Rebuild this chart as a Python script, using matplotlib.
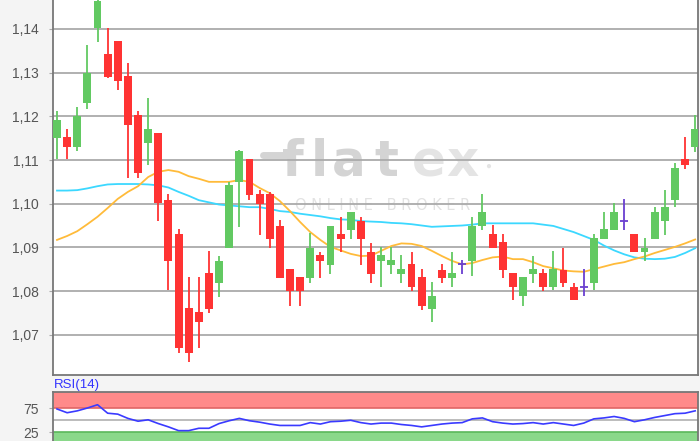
# Candlestick chart with two moving averages and an RSI(14) panel, flatex style

import numpy as np
import matplotlib
matplotlib.use('Agg')
import matplotlib.pyplot as plt
from matplotlib.lines import Line2D

plt.rcParams['font.family'] = ['Liberation Sans', 'DejaVu Sans']

# daily candles
opens = [1.1151, 1.1153, 1.1130, 1.1230, 1.1402, 1.1343, 1.1373, 1.1292, 1.1203, 1.1138,
         1.1161, 1.1009, 1.0930, 1.0760, 1.0751, 1.0841, 1.0818, 1.0898, 1.1050, 1.1102,
         1.1021, 1.1021, 1.0950, 1.0850, 1.0832, 1.0829, 1.0882, 1.0860, 1.0930, 1.0940,
         1.0960, 1.0890, 1.0868, 1.0860, 1.0838, 1.0861, 1.0831, 1.0758, 1.0848, 1.0829,
         1.0861, 1.0868, 1.0950, 1.0930, 1.0912, 1.0841, 1.0789, 1.0838, 1.0841, 1.0809,
         1.0848, 1.0810, 1.0810, 1.0818, 1.0918, 1.0940, 1.0961, 1.0930, 1.0889, 1.0918,
         1.0961, 1.1008, 1.1102, 1.1130]
highs = [1.1212, 1.1170, 1.1221, 1.1363, 1.1475, 1.1402, 1.1373, 1.1323, 1.1212, 1.1241,
         1.1161, 1.1021, 1.0941, 1.0831, 1.0831, 1.0892, 1.0880, 1.1050, 1.1124, 1.1102,
         1.1031, 1.1027, 1.0963, 1.0850, 1.0832, 1.0932, 1.0890, 1.0950, 1.0970, 1.0980,
         1.0970, 1.0911, 1.0901, 1.0901, 1.0882, 1.0890, 1.0850, 1.0820, 1.0861, 1.0890,
         1.0870, 1.0970, 1.1021, 1.0951, 1.0930, 1.0841, 1.0831, 1.0881, 1.0850, 1.0892,
         1.0899, 1.0819, 1.0850, 1.0930, 1.0980, 1.1001, 1.1011, 1.0930, 1.0921, 1.0992,
         1.1031, 1.1092, 1.1153, 1.1203]
lows = [1.1102, 1.1102, 1.1121, 1.1217, 1.1370, 1.1288, 1.1260, 1.1058, 1.1058, 1.1089,
        1.0961, 1.0802, 1.0657, 1.0637, 1.0669, 1.0749, 1.0787, 1.0898, 1.0947, 1.1008,
        1.0928, 1.0898, 1.0829, 1.0766, 1.0766, 1.0818, 1.0829, 1.0838, 1.0889, 1.0918,
        1.0860, 1.0818, 1.0809, 1.0838, 1.0818, 1.0800, 1.0757, 1.0728, 1.0818, 1.0809,
        1.0838, 1.0835, 1.0940, 1.0898, 1.0829, 1.0779, 1.0766, 1.0818, 1.0801, 1.0802,
        1.0809, 1.0779, 1.0789, 1.0802, 1.0918, 1.0940, 1.0940, 1.0889, 1.0869, 1.0918,
        1.0928, 1.0992, 1.1079, 1.1119]
closes = [1.1192, 1.1130, 1.1201, 1.1300, 1.1463, 1.1289, 1.1281, 1.1180, 1.1070, 1.1170,
          1.1001, 1.0869, 1.0669, 1.0657, 1.0728, 1.0759, 1.0869, 1.1043, 1.1121, 1.1020,
          1.0999, 1.0918, 1.0829, 1.0800, 1.0800, 1.0899, 1.0868, 1.0950, 1.0919, 1.0980,
          1.0919, 1.0838, 1.0882, 1.0870, 1.0850, 1.0809, 1.0766, 1.0789, 1.0829, 1.0841,
          1.0861, 1.0950, 1.0980, 1.0898, 1.0848, 1.0809, 1.0831, 1.0850, 1.0809, 1.0850,
          1.0818, 1.0779, 1.0810, 1.0921, 1.0941, 1.0980, 1.0961, 1.0889, 1.0899, 1.0980,
          1.0992, 1.1081, 1.1089, 1.1170]

# moving averages (orange = fast, cyan = slow)
ma_fast = [1.0917, 1.0926, 1.0937, 1.0953, 1.0970, 1.0990, 1.1011, 1.1027, 1.1040, 1.1061,
           1.1073, 1.1077, 1.1073, 1.1063, 1.1057, 1.1050, 1.1050, 1.1050, 1.1054, 1.1050,
           1.1036, 1.1024, 1.1006, 1.0983, 1.0958, 1.0935, 1.0917, 1.0901, 1.0893, 1.0885,
           1.0880, 1.0881, 1.0892, 1.0903, 1.0909, 1.0908, 1.0903, 1.0892, 1.0880, 1.0869,
           1.0861, 1.0864, 1.0871, 1.0877, 1.0879, 1.0873, 1.0873, 1.0866, 1.0857, 1.0852,
           1.0847, 1.0845, 1.0844, 1.0850, 1.0856, 1.0862, 1.0866, 1.0873, 1.0879, 1.0887,
           1.0894, 1.0901, 1.0909, 1.0918]
ma_slow = [1.1030, 1.1030, 1.1031, 1.1035, 1.1040, 1.1044, 1.1045, 1.1045, 1.1045, 1.1044,
           1.1042, 1.1037, 1.1027, 1.1018, 1.1008, 1.1003, 1.0998, 1.0996, 1.0994, 1.0992,
           1.0992, 1.0988, 1.0983, 1.0981, 1.0977, 1.0974, 1.0971, 1.0967, 1.0964, 1.0963,
           1.0960, 1.0959, 1.0958, 1.0956, 1.0955, 1.0953, 1.0950, 1.0947, 1.0948, 1.0949,
           1.0950, 1.0952, 1.0955, 1.0955, 1.0955, 1.0955, 1.0955, 1.0955, 1.0952, 1.0949,
           1.0942, 1.0935, 1.0926, 1.0917, 1.0904, 1.0893, 1.0884, 1.0877, 1.0874, 1.0873,
           1.0874, 1.0878, 1.0887, 1.0898]

rsi = [74, 66, 70, 76, 83, 65, 63, 54, 48, 51, 43, 36, 28, 28, 33, 33, 43, 49, 54, 49,
       46, 42, 39, 39, 39, 45, 42, 47, 48, 50, 45, 42, 44, 44, 41, 39, 36, 39, 42, 44,
       45, 53, 55, 47, 44, 42, 43, 45, 42, 45, 42, 39, 44, 53, 55, 58, 54, 47, 51, 56,
       60, 64, 65, 70]

price_ticks = [1.07, 1.08, 1.09, 1.10, 1.11, 1.12, 1.13, 1.14]
price_labels = ['1,07', '1,08', '1,09', '1,10', '1,11', '1,12', '1,13', '1,14']
rsi_ticks = [25, 75]
rsi_labels = ['25', '75']

green = '#62c962'
red = '#ff3333'
purple = '#6a3fd0'
label_col = '#555555'
spine_col = '#777777'

o = np.array(opens); h = np.array(highs); l = np.array(lows); c = np.array(closes)
x = np.arange(len(o))
up = c > o
down = c < o
doji = c == o

W, H = 700, 441
fig = plt.figure(figsize=(W / 100, H / 100), dpi=100, facecolor='#f4f4f4')

# ---- main price panel
ax = fig.add_axes([53 / W, 1 - 374.5 / H, 645 / W, 374.5 / H])
ax.set_facecolor('white')
ax.set_xlim(-0.395, 63.28)
ax.set_ylim(1.06088, 1.14664)
ax.set_axisbelow(True)
ax.yaxis.grid(True, color='#aaaaaa', lw=1.3)
ax.set_yticks(price_ticks)
ax.set_yticklabels(price_labels)
ax.set_xticks([])
ax.tick_params(axis='y', length=3, color='#aaaaaa', pad=7, labelsize=10, labelcolor=label_col)
ax.spines['top'].set_visible(False)
for s in ['left', 'bottom', 'right']:
    ax.spines[s].set_color(spine_col)
    ax.spines[s].set_linewidth(1.3)

# watermark
wm_dark = '#d4d4d4'
wm_light = '#e4e4e4'
for ch, px, col in [('f', 293, wm_dark), ('l', 319, wm_dark), ('a', 349, wm_dark),
                    ('t', 386, wm_dark), ('e', 429, wm_light), ('x', 462, wm_light)]:
    ax.text(px / W, 1 - 176 / H, ch, transform=fig.transFigure, ha='center', va='baseline',
            fontsize=36, fontweight='bold', color=col, family='DejaVu Sans', zorder=0.2)
ax.add_line(Line2D([263 / W, 290 / W], [1 - 155 / H, 1 - 155 / H], transform=fig.transFigure,
                   lw=5, color=wm_dark, solid_capstyle='round', zorder=0.2))
ax.text(488 / W, 1 - 166 / H, '\u25cf', transform=fig.transFigure, ha='center', va='center',
        fontsize=7, color=wm_light, zorder=0.2)
ax.text(383 / W, 1 - 206 / H, 'O N L I N E   B R O K E R', transform=fig.transFigure,
        ha='center', va='center', fontsize=10.5, color='#e2e2e2', family='DejaVu Sans', zorder=0.2)

# moving averages
ax.plot(x, ma_slow, color='#3cd8ff', lw=1.3, zorder=1)
ax.plot(x, ma_fast, color='#ffbb3a', lw=1.3, zorder=1)

# candles
bw = 0.78
ax.vlines(x[up], l[up], h[up], color=green, lw=1.3, zorder=2)
ax.bar(x[up], c[up] - o[up], bottom=o[up], width=bw, color=green, zorder=3)
ax.vlines(x[down], l[down], h[down], color=red, lw=1.3, zorder=2)
ax.bar(x[down], o[down] - c[down], bottom=c[down], width=bw, color=red, zorder=3)
ax.vlines(x[doji], l[doji], h[doji], color=purple, lw=1.3, zorder=2)
ax.hlines(o[doji], x[doji] - bw / 2, x[doji] + bw / 2, color=purple, lw=1.3, zorder=3)

# ---- RSI panel
ax2 = fig.add_axes([53 / W, 0, 645 / W, 49 / H])
ax2.set_facecolor('white')
ax2.set_xlim(-0.395, 63.28)
ax2.set_ylim(6, 110)
ax2.axhspan(75, 110, color='#ff8a8a', lw=0, zorder=0)
ax2.axhline(75, color='#e06565', lw=1.2, zorder=0.5)
ax2.axhspan(0, 25, color='#8ad88a', lw=0, zorder=0)
ax2.axhline(25, color='#5bb85b', lw=1.2, zorder=0.5)
ax2.axhline(50, color='#b0b0b0', lw=1.2, zorder=0.5)
ax2.plot(x, rsi, color='#3a3aff', lw=1.2, zorder=2)
ax2.set_xticks([])
ax2.set_yticks(rsi_ticks)
ax2.set_yticklabels(rsi_labels)
ax2.tick_params(axis='y', length=3, color='#aaaaaa', pad=7, labelsize=10, labelcolor=label_col)
ax2.spines['bottom'].set_visible(False)
for s in ['left', 'top', 'right']:
    ax2.spines[s].set_color(spine_col)
    ax2.spines[s].set_linewidth(1.3)

fig.text(54 / W, 1 - 385 / H, 'RSI(14)', color='#3333ff', fontsize=9.5, va='center', ha='left')

fig.savefig('out.png', dpi=100, facecolor=fig.get_facecolor())
